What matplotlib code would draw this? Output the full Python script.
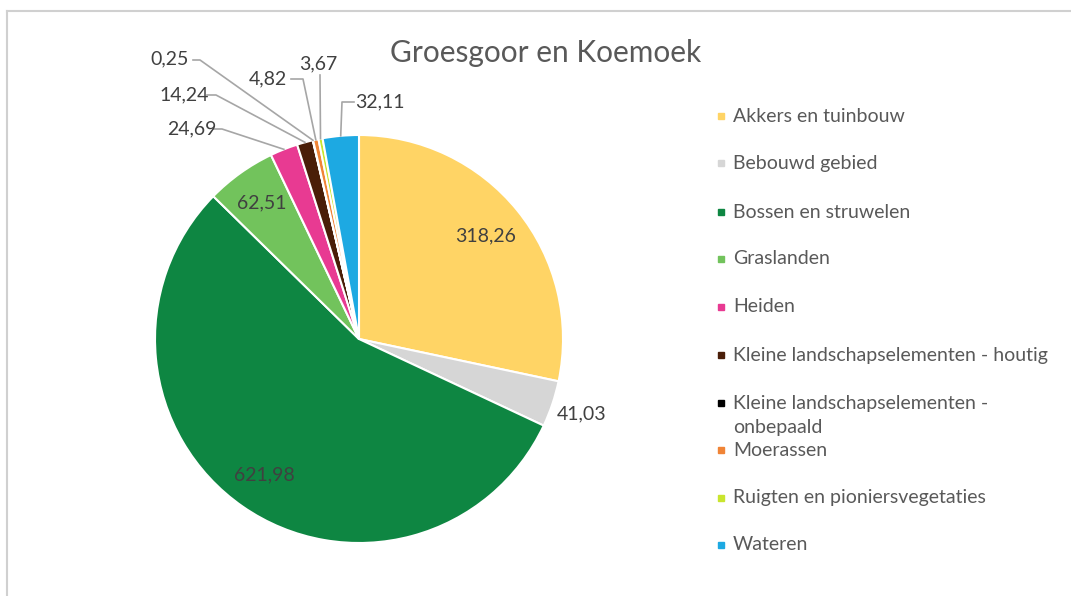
import numpy as np
import matplotlib
matplotlib.use("Agg")
import matplotlib.pyplot as plt
from matplotlib.lines import Line2D

plt.rcParams['font.family'] = ['Lato', 'DejaVu Sans']

# data
categories = ["Akkers en tuinbouw", "Bebouwd gebied", "Bossen en struwelen",
              "Graslanden", "Heiden", "Kleine landschapselementen - houtig",
              "Kleine landschapselementen -\nonbepaald", "Moerassen",
              "Ruigten en pioniersvegetaties", "Wateren"]
values = [318.26, 41.03, 621.98, 62.51, 24.69, 14.24, 0.25, 4.82, 3.67, 32.11]
value_labels = ["318,26", "41,03", "621,98", "62,51", "24,69", "14,24",
                "0,25", "4,82", "3,67", "32,11"]
colors = ["#FFD465", "#D6D6D6", "#0E8642", "#72C35C", "#E83A92", "#4A1E08",
          "#000000", "#F08436", "#C9E52E", "#1DA9E2"]
title = "Groesgoor en Koemoek"

W, H = 1071, 596
cx, cy, R = 359, 339, 204   # pie centre / radius in pixels

fig = plt.figure(figsize=(W / 100, H / 100), dpi=100)
fig.patch.set_facecolor("white")

# thin frame (top and left visible)
fig.add_artist(Line2D([7 / W, 7 / W], [0, 1 - 11 / H], color="#D0D0D0", lw=1.5))
fig.add_artist(Line2D([7 / W, 1], [1 - 11 / H, 1 - 11 / H], color="#D0D0D0", lw=1.5))

ax = fig.add_axes([(cx - R) / W, (H - cy - R) / H, 2 * R / W, 2 * R / H])
wedges, _ = ax.pie(values, colors=colors, startangle=90, counterclock=False,
                   radius=1.0, wedgeprops=dict(edgecolor="white", linewidth=1.5))
ax.set_xlim(-1, 1)
ax.set_ylim(-1, 1)
ax.axis("off")

def px(x, y):
    return ((x - cx) / R, (cy - y) / R)

label_col = "#404040"
fs = 14

def mid(w):
    a = np.deg2rad((w.theta1 + w.theta2) / 2)
    return np.cos(a), np.sin(a)

# inside / near labels
for i, dist in [(0, 0.80), (2, 0.81), (3, 0.82), (1, 1.15)]:
    mx, my = mid(wedges[i])
    ax.text(mx * dist, my * dist, value_labels[i], ha="center", va="center",
            fontsize=fs, color=label_col)

# labels with leader lines: (index, text pos px, start px, elbow px)
leaders = [
    (4, (192, 129), (214, 129), (222, 129)),
    (5, (184, 95), (207, 95), (216, 95)),
    (6, (170, 59), (193, 60), (200, 60)),
    (7, (268, 79), (291, 79), (303, 79)),
    (8, (318, 64), (320, 75), (320, 76)),
    (9, (380, 102), (354, 102), (342, 102)),
]
for i, tpos, p0, p1 in leaders:
    ax.text(*px(*tpos), value_labels[i], ha="center", va="center",
            fontsize=fs, color=label_col)
    mx, my = mid(wedges[i])
    xs = [px(*p0)[0], px(*p1)[0], mx]
    ys = [px(*p0)[1], px(*p1)[1], my]
    ax.plot(xs, ys, color="#A6A6A6", lw=1.2, clip_on=False)

fig.text(390 / W, 1 - 53 / H, title, ha="left", va="center",
         fontsize=21.5, color="#595959")

# legend
leg_y = [116, 163, 212, 259, 307, 355, 403, 450, 498, 545]
for name, c, y in zip(categories, colors, leg_y):
    fig.patches.append(plt.Rectangle((718 / W, 1 - (y + 3) / H), 6 / W, 6 / H,
                                     transform=fig.transFigure, color=c))
    for k, line in enumerate(name.split("\n")):
        fig.text(733 / W, 1 - (y + 25 * k) / H, line, ha="left", va="center",
                 fontsize=14, color="#595959")

fig.savefig("out.png", dpi=100)
